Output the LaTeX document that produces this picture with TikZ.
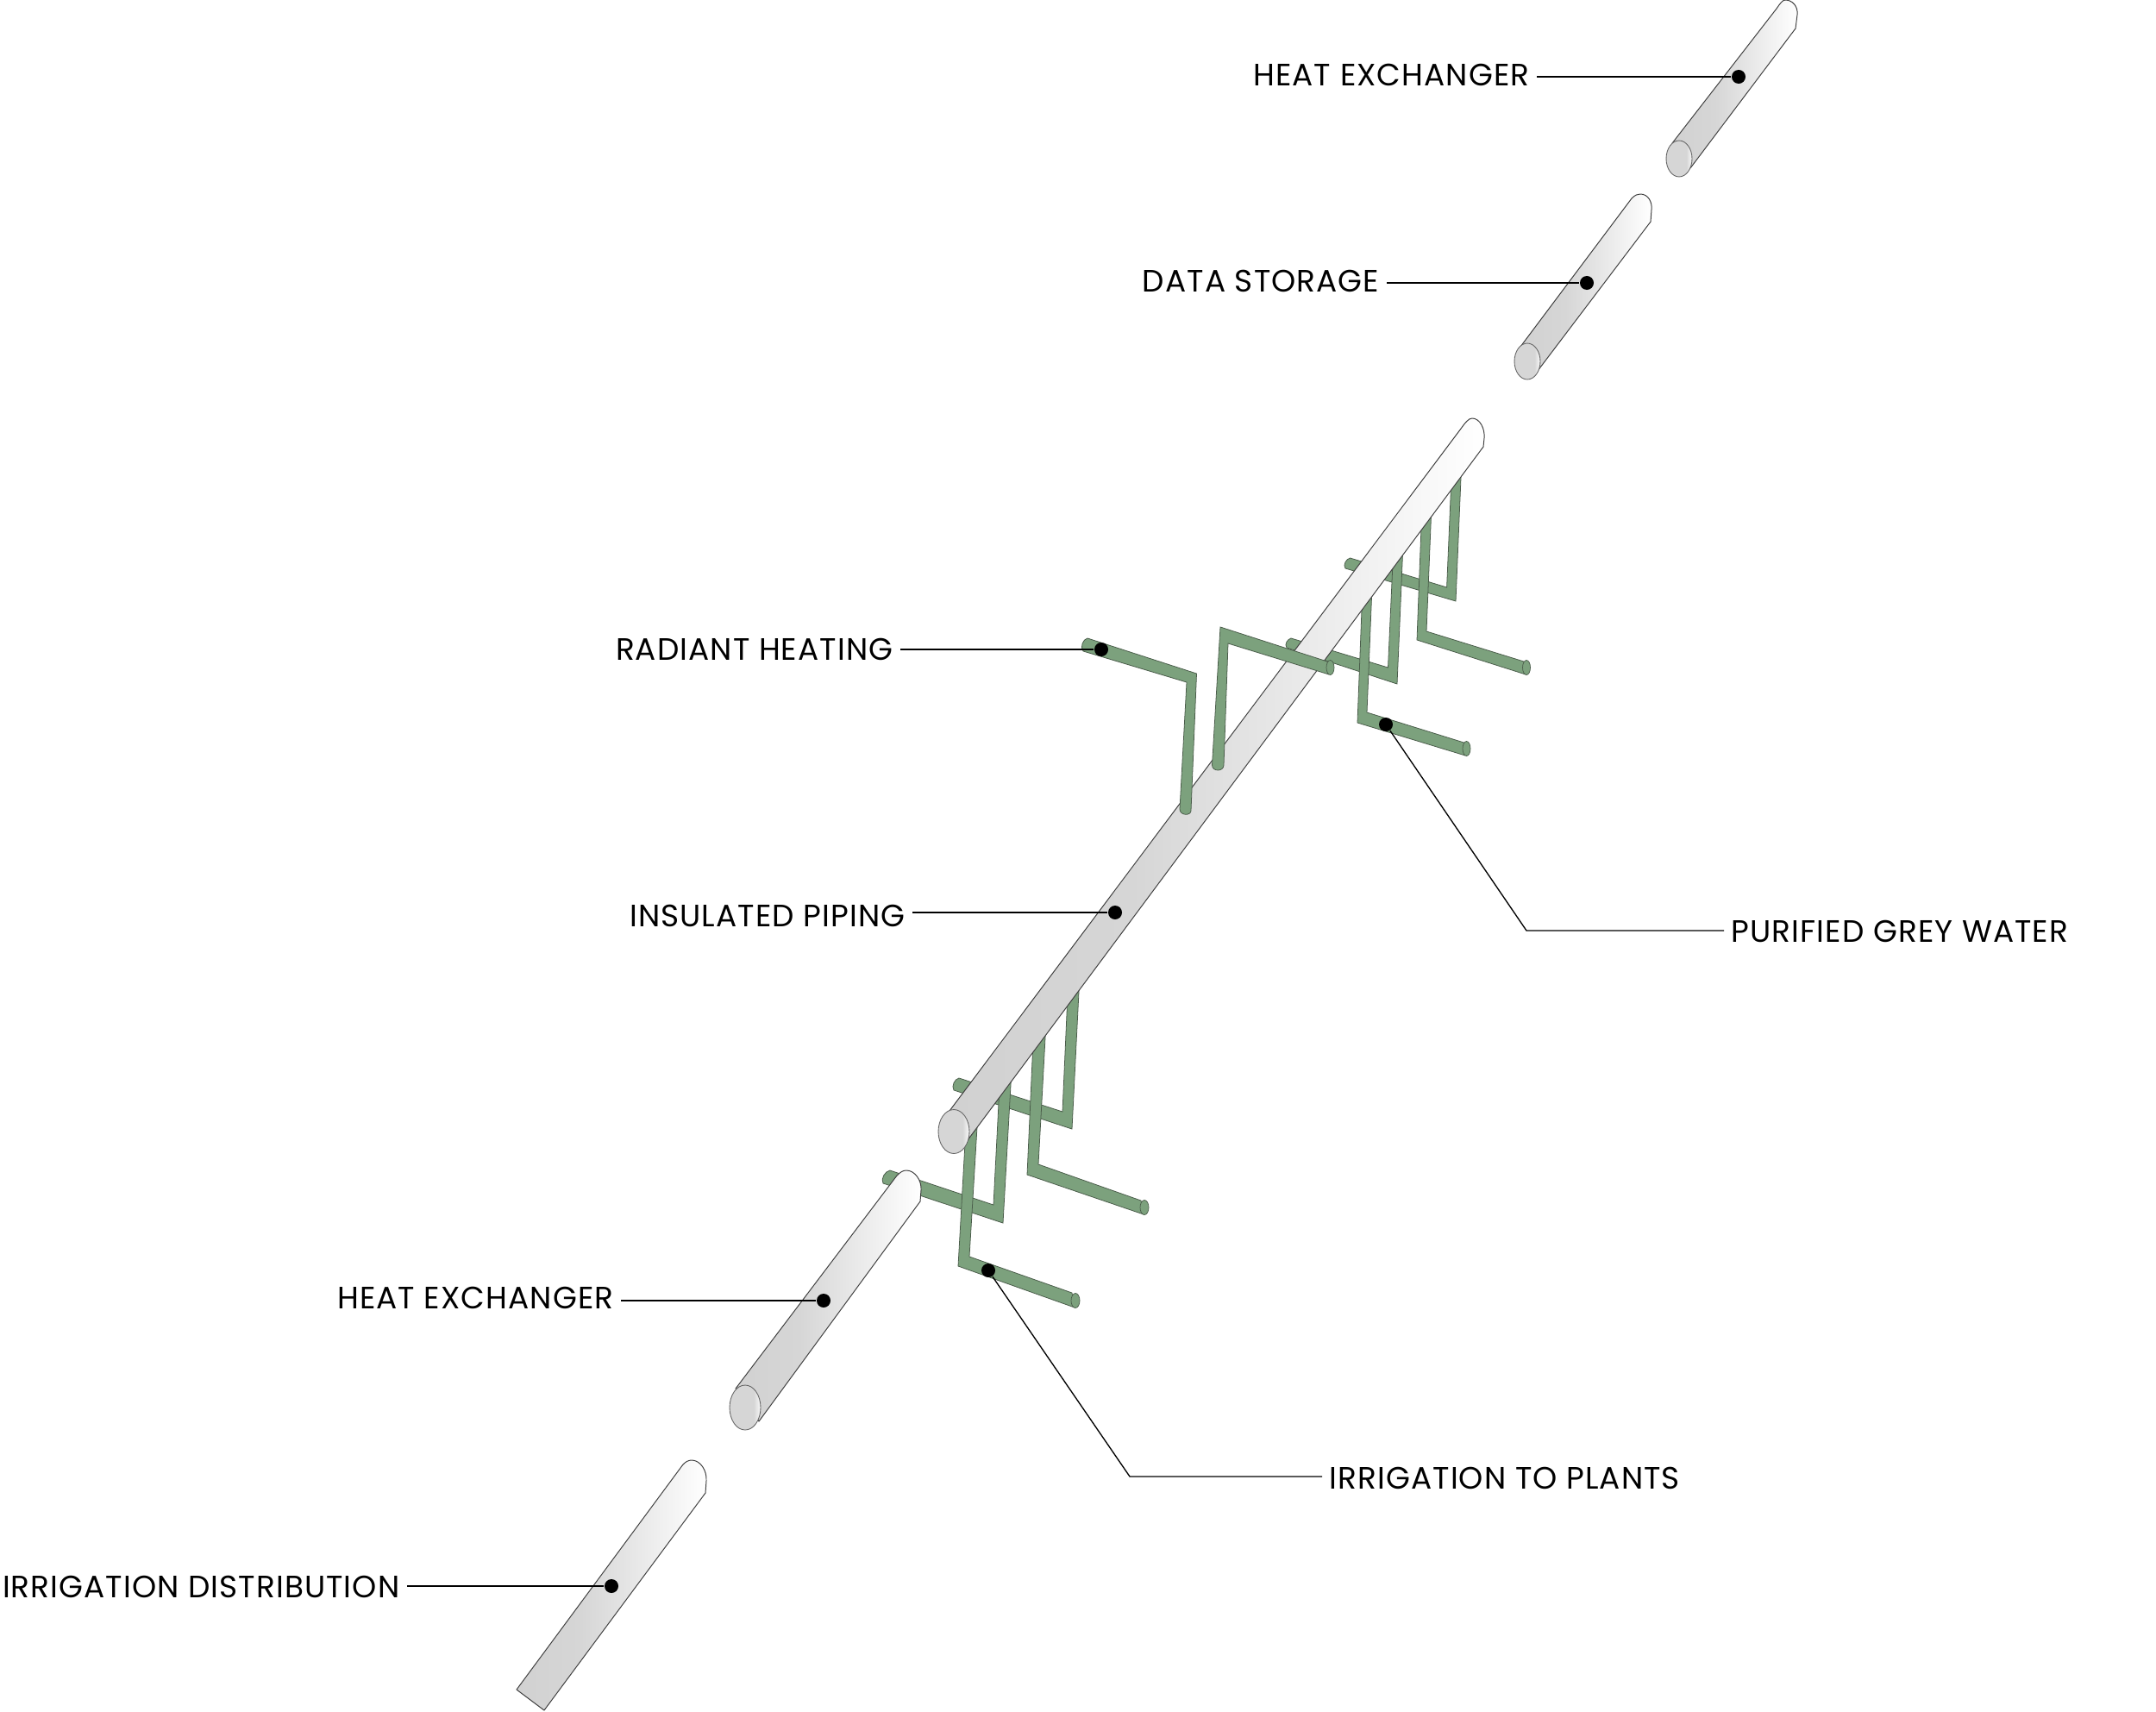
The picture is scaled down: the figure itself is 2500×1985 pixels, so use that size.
\documentclass[tikz,border=0pt]{standalone}
\usepackage{fontspec}
\setmainfont[LetterSpace=3]{Poppins}
\definecolor{pipegreen}{HTML}{7CA17D}
\definecolor{greenline}{HTML}{4A5C4A}
\definecolor{g0}{HTML}{D1D1D1}
\definecolor{g1}{HTML}{D6D6D6}
\pgfdeclarehorizontalshading{pipeshade}{100bp}{color(0bp)=(g0); color(25bp)=(g0); color(42bp)=(g1); color(75bp)=(white); color(100bp)=(white)}
\pgfdeclarehorizontalshading{capshade}{100bp}{color(0bp)=(g1); color(25bp)=(g1); color(64bp)=(g1); color(75bp)=(white!90!g1); color(100bp)=(white)}
\tikzset{
  x=0.01cm,y=-0.01cm,
  pipe/.style={shading=pipeshade,draw=black!75,line width=0.28pt,line join=round},
  capend/.style={shading=capshade,draw=black!60,line width=0.25pt},
  grn/.style={fill=pipegreen,draw=greenline,line width=0.22pt,line join=miter},
  grncap/.style={fill=pipegreen,draw=greenline,line width=0.2pt},
  pin/.style={circle,fill=black,inner sep=0pt,minimum size=0.16cm},
  lab/.style={inner sep=0pt,font=\fontsize{10.2pt}{12pt}\selectfont},
  lead/.style={draw=black,line width=0.38pt,shorten <=0.08cm},
}
\begin{document}
\begin{tikzpicture}
\useasboundingbox (0,0) rectangle (2500,1985);
% green pipes behind the main pipe: upper group
\draw[grn] (1565.5,647) -- (1677.6,681) -- (1684,530) -- (1695,530) -- (1688,697) -- (1560,659) .. controls (1557,655) and (1561,648) .. cycle;
\draw[grn] (1497,740) -- (1609.5,774) -- (1616,630) -- (1627,630) -- (1620,793) -- (1492,751) .. controls (1489,747) and (1493,741) .. cycle;
\draw[grn] (1660,585) -- (1654,732) -- (1767,767) -- (1769,782) -- (1643,742) -- (1649,585) -- cycle;
\draw[grncap] (1770,774) ellipse [x radius=4.5,y radius=8.5];
\draw[grn] (1591,680) -- (1585,826) -- (1697.5,861) -- (1699,876) -- (1574,838) -- (1580,680) -- cycle;
\draw[grncap] (1700.5,868) ellipse [x radius=4.5,y radius=8.5];
% green pipes behind: lower group
\draw[grn] (1112,1250) -- (1232,1289) -- (1239,1130) -- (1252,1130) -- (1243,1309) -- (1106,1264) .. controls (1103,1259) and (1107,1251) .. cycle;
\draw[grn] (1032,1357) -- (1152,1397) -- (1160,1240) -- (1173,1240) -- (1163,1418) -- (1024,1372) .. controls (1021,1367) and (1026,1358) .. cycle;
\draw[grn] (1213,1185) -- (1204,1350) -- (1323,1392) -- (1326,1408) -- (1191,1362) -- (1199,1185) -- cycle;
\draw[grncap] (1327,1400) ellipse [x radius=5,y radius=8.5];
\draw[grn] (1134,1290) -- (1124,1457) -- (1243,1499) -- (1246,1516) -- (1111,1468) -- (1121,1290) -- cycle;
\draw[grncap] (1247,1508) ellipse [x radius=5,y radius=8.5];
% main pipe
\path[pipe] (1101,1288) -- (1694,497) .. controls (1699,490) and (1703,485) .. (1707,485) .. controls (1716,485) and (1722,497) .. (1721,508) -- (1720,518) -- (1122,1322) -- cycle;
\path[capend] (1106,1312) ellipse [x radius=18,y radius=25.5];
% green pipes in front
\draw[grn] (1261,740) -- (1387.5,781) -- (1381,940) .. controls (1381,946) and (1368,946) .. (1368,938) -- (1376,791) -- (1256,755) .. controls (1252,750) and (1256,741) .. cycle;
\draw[grn] (1415,727) -- (1539,767) -- (1541,782) -- (1424,746) -- (1419,887) .. controls (1419,895) and (1405.5,895) .. (1405.5,887) -- cycle;
\draw[grncap] (1542.5,774) ellipse [x radius=4.5,y radius=8.5];
% other pipes
\path[pipe] (1939,166) -- (2060,10) .. controls (2064,4) and (2067,0) .. (2070,0) .. controls (2079,0) and (2085,8) .. (2084,17) -- (2082,33) -- (1960,195) -- cycle;
\path[capend] (1947,184) ellipse [x radius=15,y radius=21];
\path[pipe] (1763,402) -- (1892,230) .. controls (1896,226) and (1899,225) .. (1902,225) .. controls (1911,225) and (1916,234) .. (1915,243) -- (1914,257) -- (1783,430) -- cycle;
\path[capend] (1771,419) ellipse [x radius=15,y radius=21];
\path[pipe] (853,1610) -- (1040,1363) .. controls (1044,1359) and (1047,1357) .. (1051,1357) .. controls (1061,1357) and (1069,1369) .. (1068,1380) -- (1067,1393) -- (880,1648) -- cycle;
\path[capend] (864,1632) ellipse [x radius=18,y radius=26];
\path[pipe] (599,1959) -- (792,1698) .. controls (795,1695) and (798,1693) .. (802,1693) .. controls (812,1693) and (820,1705) .. (819,1717) -- (818,1731) -- (631,1983) -- cycle;
% pins
\node[pin] (p1) at (2016,89) {};
\node[pin] (p2) at (1840,328) {};
\node[pin] (p3) at (1277,753) {};
\node[pin] (p4) at (1293,1058) {};
\node[pin] (p5) at (955,1508) {};
\node[pin] (p6) at (709,1839) {};
\node[pin] (p7) at (1607,840) {};
\node[pin] (p8) at (1146,1473) {};
% labels
\node[lab,anchor=base east] (l1) at (1774,100) {HEAT EXCHANGER};
\node[lab,anchor=base east] (l2) at (1600,338) {DATA STORAGE};
\node[lab,anchor=base east] (l3) at (1036,765) {RADIANT HEATING};
\node[lab,anchor=base east] (l4) at (1050,1074) {INSULATED PIPING};
\node[lab,anchor=base east] (l5) at (712,1517) {HEAT EXCHANGER};
\node[lab,anchor=base east] (l6) at (464,1852) {IRRIGATION DISTRIBUTION};
\node[lab,anchor=base west] (l7) at (2007,1092) {PURIFIED GREY WATER};
\node[lab,anchor=base west] (l8) at (1541,1726) {IRRIGATION TO PLANTS};
\coordinate (e7) at (1770,1079);
\coordinate (e8) at (1310,1712);
% leaders
\draw[lead] (l1.east |- p1) -- (p1);
\draw[lead] (l2.east |- p2) -- (p2);
\draw[lead] (l3.east |- p3) -- (p3);
\draw[lead] (l4.east |- p4) -- (p4);
\draw[lead] (l5.east |- p5) -- (p5);
\draw[lead] (l6.east |- p6) -- (p6);
\draw[lead] (l7.west |- e7) -- (e7) -- (p7);
\draw[lead] (l8.west |- e8) -- (e8) -- (p8);
\end{tikzpicture}
\end{document}
